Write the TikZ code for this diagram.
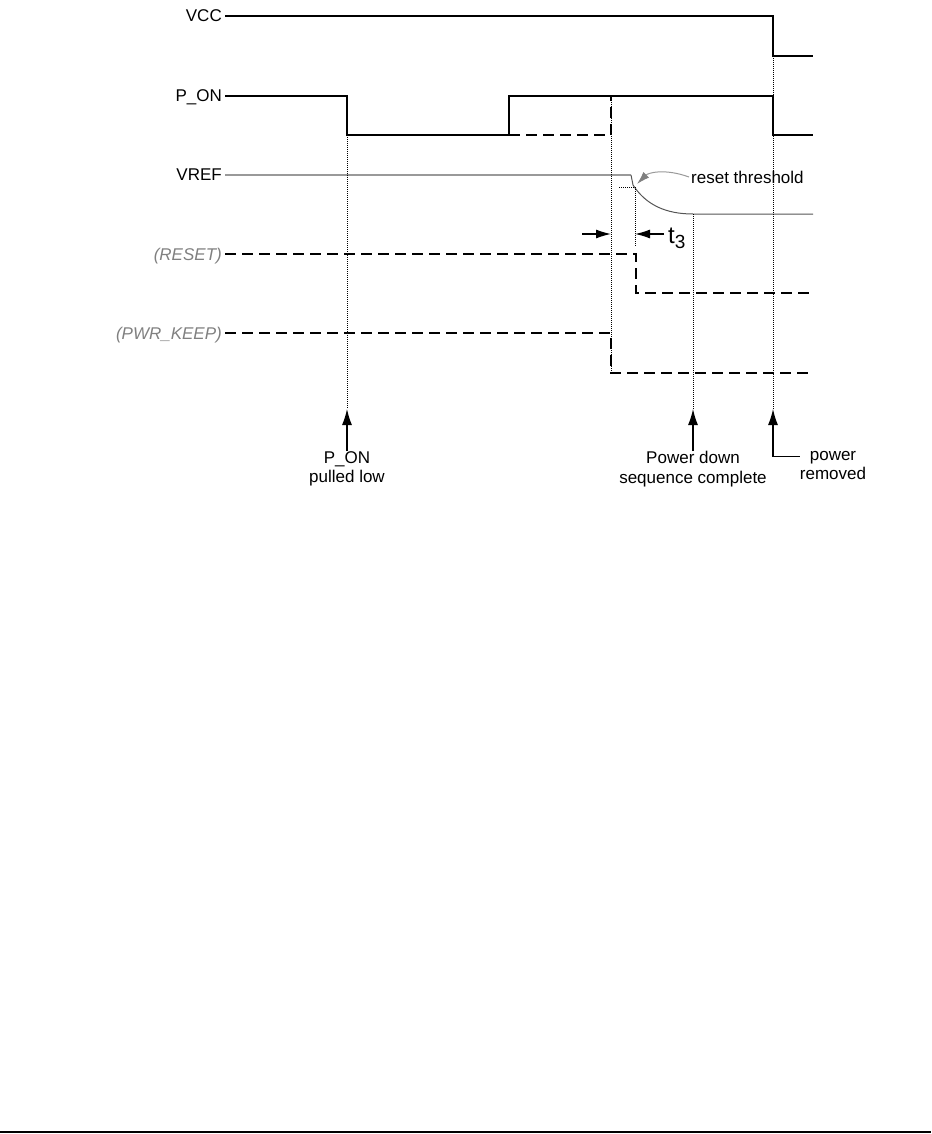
\documentclass[tikz,border=0pt]{standalone}
\usepackage{fontspec}
\setmainfont{Liberation Sans}
\usetikzlibrary{arrows.meta, positioning, calc}

\definecolor{refgray}{HTML}{999999}
\definecolor{curvegray}{HTML}{555555}
\definecolor{labelgray}{HTML}{808080}

\begin{document}
\begin{tikzpicture}[x=1pt, y=-1pt,
    siglabel/.style={anchor=base east, inner xsep=3pt, inner ysep=2pt, font=\fontsize{17}{20}\selectfont},
    ghostlabel/.style={siglabel, text=labelgray, font=\fontsize{17}{20}\selectfont\itshape},
    sig/.style={line width=1.2pt},
    ghost/.style={sig, dash pattern=on 11pt off 6pt},
    marker/.style={line width=0.8pt, dash pattern=on 1pt off 1pt},
    evlabel/.style={anchor=north, align=center, inner sep=0pt, font=\fontsize{17}{19.5}\selectfont},
    evarrow/.style={line width=1.2pt, -{Latex[length=16pt, width=10pt]}},
    tarrow/.style={line width=1.2pt, -{Latex[length=15pt, width=9pt]}}]
\useasboundingbox (0,0) rectangle (931,1134);

% Signal names
\node[siglabel] (vcc) at (225,22) {VCC};
\node[siglabel] (pon) at (225,102) {P\_ON};
\node[siglabel] (vref) at (225,181) {VREF};
\node[ghostlabel] (reset) at (225,260) {(RESET)};
\node[ghostlabel] (pwrkeep) at (225,339) {(PWR\_KEEP)};

% Waveforms
\draw[sig] ([yshift=6pt]vcc.base east) -- (773,16) -- (773,56) -- (813,56);
\draw[sig] ([yshift=6pt]pon.base east) -- (347,96) -- (347,135) -- (509,135) -- (509,96)
    -- (773,96) -- (773,135) -- (813,135);
\draw[ghost] (509,135) -- (611,135) -- (611,96);
\draw[refgray, line width=1.2pt] ([yshift=6pt]vref.base east) -- (631,175);
\draw[curvegray, line width=1pt] (631,175) -- (633,185) .. controls (646,205) and (666,214) .. (693,214) -- (813,214);
\draw[ghost] ([yshift=6pt]reset.base east) -- (636,254) -- (636,293) -- (813,293);
\draw[ghost] ([yshift=6pt]pwrkeep.base east) -- (611,333) -- (611,373) -- (813,373);

% Event markers
\foreach \x/\ya/\yb in {347/135/409, 611/96/373, 693/214/409, 773/56/409}
    \draw[marker] (\x,\ya) -- (\x,\yb);
\coordinate (threshpt) at (635,187);
\draw[marker] (619,187) -- (threshpt) -- (635,247);

% Reset threshold
\node[anchor=west, inner sep=2pt, font=\fontsize{17}{20}\selectfont] (thresh) at (689,177) {reset threshold};
\draw[refgray, line width=1pt, -{Latex[length=13pt, width=8pt, fill=gray, color=gray]}]
    (thresh.west) .. controls (664,168) and (648,173) .. (637,184);

% t3 interval
\coordinate (t3a) at (611,234);
\coordinate (t3b) at (635,234);
\node[anchor=west, inner sep=1pt] (tthree) at (667,238)
    {\fontsize{24}{26}\selectfont t\raisebox{-0.4ex}{\fontsize{19}{21}\selectfont 3}};
\draw[tarrow] ([xshift=-3pt]tthree.west |- t3b) -- (t3b);
\draw[tarrow] (582,234) -- (t3a);

% Events
\coordinate (pontip) at (347,409);
\coordinate (pdtip) at (693,409);
\coordinate (rmtip) at (773,409);
\node[evlabel] (ponlow) at (347,451) {P\_ON\\pulled low};
\node[evlabel] (pdown) at (693,451) {Power down\\sequence complete};
\node[evlabel] (premoved) at (833,451) {power\\removed};
\draw[evarrow] (ponlow.north) -- (pontip);
\draw[evarrow] (pdown.north) -- (pdtip);
\draw[evarrow] ([yshift=9pt]premoved.west) -| (rmtip);

% Page rule
\draw[line width=2pt] (0,1132) -- (931,1132);
\end{tikzpicture}
\end{document}
